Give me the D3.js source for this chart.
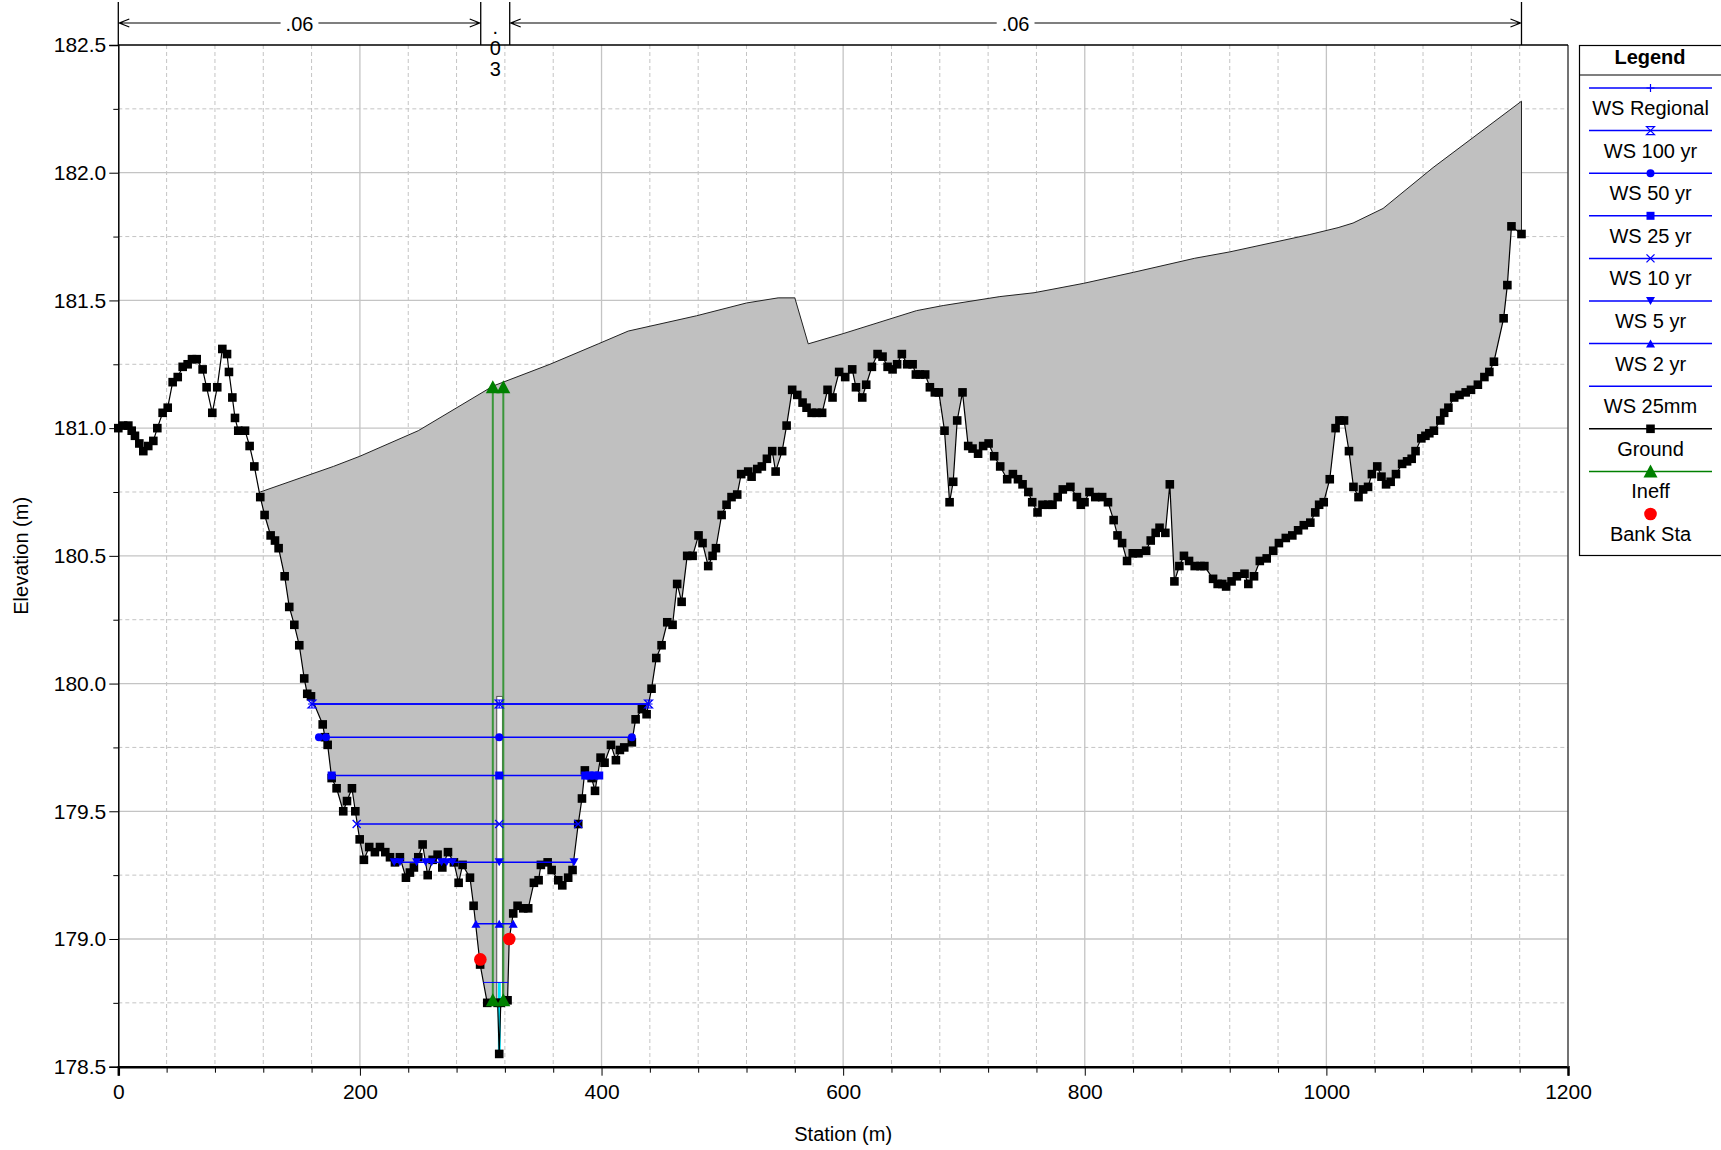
<!DOCTYPE html>
<html>
<head>
<meta charset="utf-8">
<script src="https://cdn.jsdelivr.net/npm/d3@7"></script>
<style>
  body { margin: 0; background: #fff; }
  svg { display: block; font-family: "Liberation Sans", Arial, sans-serif; }
</style>
</head>
<body>
<svg width="1721" height="1150"></svg>
<script>
// ground survey points (station m, elevation m)
const groundSta = [0,4,8.3,11.1,13.8,17.4,20.7,24.8,29,32.3,36.7,40.9,45,49.2,53.3,57.4,61,64.9,69.8,73.1,77.8,81.9,86.1,90,91.6,94.4,96.6,99.3,104.9,108.7,112.6,117.5,121.1,126.1,129.7,132.7,137.7,141.5,145.7,149.8,153.9,156.4,159.5,169.2,171,173.3,176.6,180.7,186.2,189.3,193.4,196.2,199.8,203.3,207.7,212.4,216.6,221,224.9,229,233.1,238.1,241.4,244.7,248.3,251.9,256.1,260.2,264.3,268.2,272.9,277.8,281.7,285,291.1,294.1,299.5,305.4,314,315.3,316.6,322.2,323.6,326.9,330.5,335.2,339.3,344,347.9,349.8,355.4,358.7,364.2,367.5,372.4,376,380.7,383.8,386.2,391.8,394.6,399.2,402.5,407.8,411.9,415.2,418.8,425.1,428.2,433.4,437.3,441.4,445.3,449.7,454.4,458.8,462.6,466.3,470.9,475.4,480.3,483.6,488.3,491.9,494.7,499.4,503.5,507.6,512.3,515.6,521.4,524.2,528.9,532.7,536.9,541.3,544.1,549.5,553.2,557.8,562,566.4,569.7,573.9,578,582.6,587.1,591.2,596.7,601.7,607.5,610.6,615.8,619.1,623.8,628.5,632.6,636.8,640.9,644.7,648.6,653,657.5,660.2,663.5,667.9,671.8,675.9,679.2,683.9,688.1,691.1,694.4,698.8,703.5,707.1,711.7,715.9,720.4,725,730,735.8,740.5,744.7,748.5,753.3,756.5,760.9,765,769.8,773.3,777.6,781.8,788.1,793.5,796.7,799.8,803.9,808.7,814.4,819.2,823.9,827.1,830.9,835,839.7,844.5,850.8,854.6,858.7,861.9,866.7,870.4,874.2,878.3,882.1,886.3,891,895.8,899,906.2,910,913.8,917,921.5,925.9,932.2,935.4,940.1,944.9,950.6,956,960.7,966.4,971.8,976.6,981.3,986.7,990.8,994,997.8,1002.8,1007.6,1010.8,1014.6,1018.7,1022.4,1026.6,1030.4,1034.5,1037.7,1042.1,1045.6,1049.4,1053.2,1057.6,1062.7,1066.8,1070.6,1073.8,1078.6,1082,1085.2,1089,1094.3,1097.5,1101,1105.8,1110.2,1115.3,1119.7,1125.4,1130.8,1134.9,1138.7,1146.7,1149.8,1153.2,1161.5];
const groundElev = [181.00,181.01,181.01,180.99,180.97,180.94,180.91,180.93,180.95,181.00,181.06,181.08,181.18,181.20,181.24,181.25,181.27,181.27,181.23,181.16,181.06,181.16,181.31,181.29,181.22,181.12,181.04,180.99,180.99,180.93,180.85,180.73,180.66,180.58,180.56,180.53,180.42,180.30,180.23,180.15,180.02,179.96,179.95,179.84,179.79,179.76,179.63,179.59,179.50,179.54,179.59,179.50,179.39,179.31,179.36,179.34,179.36,179.34,179.32,179.30,179.32,179.24,179.26,179.28,179.32,179.37,179.25,179.31,179.33,179.28,179.34,179.30,179.22,179.29,179.24,179.13,178.90,178.75,178.75,178.55,178.75,178.76,179.00,179.10,179.13,179.12,179.12,179.22,179.23,179.29,179.30,179.27,179.23,179.21,179.24,179.27,179.45,179.55,179.66,179.63,179.58,179.71,179.69,179.76,179.70,179.74,179.75,179.77,179.86,179.90,179.88,179.98,180.10,180.15,180.24,180.23,180.39,180.32,180.50,180.50,180.58,180.55,180.46,180.50,180.53,180.66,180.70,180.73,180.74,180.82,180.83,180.81,180.84,180.85,180.88,180.91,180.83,180.91,181.01,181.15,181.13,181.10,181.08,181.06,181.06,181.06,181.15,181.12,181.22,181.20,181.23,181.16,181.12,181.17,181.24,181.29,181.28,181.24,181.23,181.25,181.29,181.25,181.25,181.21,181.21,181.21,181.16,181.14,181.14,180.99,180.71,180.79,181.03,181.14,180.93,180.92,180.90,180.93,180.94,180.89,180.85,180.80,180.82,180.80,180.78,180.75,180.71,180.67,180.70,180.70,180.70,180.73,180.76,180.77,180.73,180.70,180.71,180.75,180.73,180.73,180.71,180.64,180.58,180.55,180.48,180.51,180.51,180.52,180.56,180.59,180.61,180.59,180.78,180.40,180.46,180.50,180.48,180.46,180.46,180.46,180.41,180.39,180.39,180.38,180.40,180.42,180.43,180.39,180.42,180.48,180.49,180.52,180.55,180.57,180.58,180.60,180.62,180.63,180.67,180.70,180.71,180.80,181.00,181.03,181.03,180.91,180.77,180.73,180.76,180.77,180.82,180.85,180.81,180.78,180.79,180.82,180.86,180.87,180.88,180.91,180.96,180.97,180.98,180.99,181.03,181.06,181.08,181.12,181.13,181.14,181.15,181.17,181.20,181.22,181.26,181.43,181.56,181.79,181.76];

// road / deck top line over the section
const deckSta = [117.5,178,200,248.3,310.3,357.3,397.3,422.1,478.7,520,546.2,560,571.1,600,660.7,682.8,729.7,758,799.2,840.3,891,920,986.3,1009.7,1022.1,1046.9,1088.3,1161.5];
const deckElev = [180.75,180.85,180.89,180.99,181.165,181.25,181.33,181.38,181.44,181.49,181.51,181.51,181.33,181.37,181.46,181.48,181.515,181.53,181.567,181.61,181.665,181.69,181.758,181.785,181.803,181.86,182.02,182.28];

// water surfaces
const wsNames = ["WS Regional","WS 100 yr","WS 50 yr","WS 25 yr","WS 10 yr","WS 5 yr","WS 2 yr","WS 25mm"];
const wsElev = [179.92,179.92,179.79,179.64,179.45,179.30,179.06,178.83];
const wsStart = [160.3,160.3,166.1,176.6,197.3,228.4,296,302];
const wsEnd = [438.9,438.9,425.1,398.1,380.7,377.2,326.9,322.8];
const wsMarkSta = [
  [160.3,315.3,438.9],
  [160.3,315.3,438.9],
  [166.1,171.9,315.3,425.1],
  [176.6,315.3,386.5,390,394,398.1],
  [197.3,315.3,380.7],
  [228.4,233.1,246.9,254.4,259.4,267.6,271.8,276.7,315.3,377.2],
  [296,315.3,326.9],
  []
];
const wsSymbols = ["plus","hourglass","circle","square","x","tridown","triup","none"];

// ineffective flow, bank stations, culvert opening
const ineffSta = [310,318.7];
const ineffTop = [181.16,181.16];
const ineffBot = [178.76,178.76];
const bankSta = [299.7,323.6];
const bankElev = [178.92,179.0];
const culvertSta = [313.3,317.9];
const culvertElev = [178.55,179.95];

// Manning's n
const nBreaks = [0,300,324,1161.5];
const nValues = [".06",".03",".06"];

const svg = d3.select("svg");
const x = d3.scaleLinear().domain([0,1200]).range([118.3,1568]);
const y = d3.scaleLinear().domain([178.5,182.5]).range([1066.7,45]);
const X0 = x(0), X1 = x(1200), Y0 = y(178.5), Y1 = y(182.5);

// grid
const grid = svg.append("g");
d3.range(40, 1200, 40).forEach(v => {
  const major = v % 200 === 0;
  grid.append("line").attr("x1", x(v)).attr("x2", x(v)).attr("y1", Y1).attr("y2", Y0)
    .attr("stroke", "#c4c4c4").attr("stroke-width", major ? 1.3 : 1)
    .attr("stroke-dasharray", major ? null : "4,3");
});
d3.range(178.75, 182.5, 0.25).forEach(v => {
  const major = Math.abs(v * 2 - Math.round(v * 2)) < 1e-6;
  grid.append("line").attr("x1", X0).attr("x2", X1).attr("y1", y(v)).attr("y2", y(v))
    .attr("stroke", "#c4c4c4").attr("stroke-width", major ? 1.3 : 1)
    .attr("stroke-dasharray", major ? null : "4,3");
});

const ground = groundSta.map((s, i) => [s, groundElev[i]]);
const deck = deckSta.map((s, i) => [s, deckElev[i]]);
const line = d3.line().x(d => x(d[0])).y(d => y(d[1]));

// grey fill between ground and deck
const under = ground.filter(d => d[0] >= deckSta[0] && d[0] <= deckSta[deckSta.length - 1]).reverse();
svg.append("path").attr("d", line(deck.concat(under)) + "Z").attr("fill", "#c0c0c0");
svg.append("path").attr("d", line(deck.concat([under[0]])))
  .attr("fill", "none").attr("stroke", "#222").attr("stroke-width", 1);

// culvert opening and low water
svg.append("rect").attr("x", x(culvertSta[0])).attr("y", y(culvertElev[1]))
  .attr("width", x(culvertSta[1]) - x(culvertSta[0])).attr("height", y(178.75) - y(culvertElev[1]))
  .attr("fill", "#fff").attr("stroke", "#333").attr("stroke-width", 0.8);
svg.append("rect").attr("x", x(314.2)).attr("y", y(wsElev[7]))
  .attr("width", x(316.6) - x(314.2)).attr("height", y(culvertElev[0]) - y(wsElev[7]))
  .attr("fill", "#00e8ff");

// ground line + squares
svg.append("path").attr("d", line(ground)).attr("fill", "none").attr("stroke", "#000").attr("stroke-width", 1.2);
svg.append("g").selectAll("rect").data(ground).join("rect")
  .attr("x", d => x(d[0]) - 4.3).attr("y", d => y(d[1]) - 4.3)
  .attr("width", 8.6).attr("height", 8.6).attr("fill", "#000");

// ineffective flow lines
ineffSta.forEach((s, i) => {
  svg.append("line").attr("x1", x(s)).attr("x2", x(s)).attr("y1", y(ineffTop[i])).attr("y2", y(ineffBot[i]))
    .attr("stroke", "#3a963a").attr("stroke-width", 2);
});

function marker(g, type, cx, cy, color) {
  const p = g.append("path").attr("transform", `translate(${cx},${cy})`);
  switch (type) {
    case "plus": p.attr("d", "M-4,0H4M0,-4V4").attr("stroke", color).attr("stroke-width", 1.2).attr("fill", "none"); break;
    case "hourglass": p.attr("d", "M-4,-4H4L-4,4H4Z").attr("stroke", color).attr("stroke-width", 1.2).attr("fill", "none"); break;
    case "circle": p.attr("d", d3.symbol(d3.symbolCircle, 50)()).attr("fill", color); break;
    case "square": p.attr("d", "M-4,-4H4V4H-4Z").attr("fill", color); break;
    case "x": p.attr("d", "M-4,-4L4,4M-4,4L4,-4").attr("stroke", color).attr("stroke-width", 1.3).attr("fill", "none"); break;
    case "tridown": p.attr("d", "M-4.5,-4H4.5L0,4Z").attr("fill", color); break;
    case "triup": p.attr("d", "M-4.5,4H4.5L0,-4Z").attr("fill", color); break;
    case "ground": p.attr("d", "M-4.3,-4.3H4.3V4.3H-4.3Z").attr("fill", "#000"); break;
    case "ineff": p.attr("d", "M-7,6H7L0,-7Z").attr("fill", color); break;
    case "bank": p.attr("d", d3.symbol(d3.symbolCircle, 125)()).attr("fill", color); break;
  }
}

// water surfaces
const wsG = svg.append("g");
wsNames.forEach((n, i) => {
  wsG.append("line").attr("x1", x(wsStart[i])).attr("x2", x(wsEnd[i])).attr("y1", y(wsElev[i])).attr("y2", y(wsElev[i]))
    .attr("stroke", "#0000ff").attr("stroke-width", i === 7 ? 1 : 1.5);
});
wsNames.forEach((n, i) => {
  wsMarkSta[i].forEach(s => marker(wsG, wsSymbols[i], x(s), y(wsElev[i]), "#0000ff"));
});

// ineff triangles and bank stations
ineffSta.forEach((s, i) => {
  marker(svg, "ineff", x(s), y(ineffTop[i]), "#008000");
  marker(svg, "ineff", x(s), y(ineffBot[i]), "#008000");
});
bankSta.forEach((s, i) => marker(svg, "bank", x(s), y(bankElev[i]), "#ff0000"));

// axes
const yAxis = svg.append("g").attr("transform", `translate(${X0},0)`)
  .call(d3.axisLeft(y).tickValues(d3.range(178.5, 182.51, 0.5)).tickFormat(d3.format(".1f")).tickSize(9).tickPadding(3));
svg.append("g").attr("transform", `translate(${X0},0)`)
  .call(d3.axisLeft(y).tickValues(d3.range(178.75, 182.5, 0.5)).tickFormat("").tickSize(5))
  .select(".domain").remove();
const xAxis = svg.append("g").attr("transform", `translate(0,${Y0})`)
  .call(d3.axisBottom(x).tickValues(d3.range(0, 1201, 200)).tickFormat(d3.format("d")).tickSize(9).tickPadding(8));
svg.append("g").attr("transform", `translate(0,${Y0})`)
  .call(d3.axisBottom(x).tickValues(d3.range(40, 1200, 40).filter(v => v % 200)).tickFormat("").tickSize(6))
  .select(".domain").remove();
[yAxis, xAxis].forEach(a => {
  a.selectAll("text").attr("font-size", 21).attr("font-family", "Liberation Sans, Arial, sans-serif").attr("fill", "#000");
  a.selectAll("line").attr("stroke", "#000");
});
yAxis.select(".domain").attr("stroke-width", 1.5);
xAxis.select(".domain").attr("stroke-width", 2.5);

// frame
svg.append("line").attr("x1", X1).attr("x2", X1).attr("y1", Y1).attr("y2", Y0).attr("stroke", "#444").attr("stroke-width", 1.5);
svg.append("line").attr("x1", X0).attr("x2", X1).attr("y1", Y1).attr("y2", Y1).attr("stroke", "#000").attr("stroke-width", 1.3);

svg.append("text").attr("transform", `translate(28,${(Y0 + Y1) / 2}) rotate(-90)`)
  .attr("text-anchor", "middle").attr("font-size", 20).text("Elevation (m)");
svg.append("text").attr("x", (X0 + X1) / 2).attr("y", 1141)
  .attr("text-anchor", "middle").attr("font-size", 20).text("Station (m)");

// Manning's n bar
const nG = svg.append("g");
nBreaks.forEach(s => nG.append("line").attr("x1", x(s)).attr("x2", x(s)).attr("y1", 2).attr("y2", Y1).attr("stroke", "#000").attr("stroke-width", 1.3));
nValues.forEach((v, i) => {
  const a = x(nBreaks[i]), b = x(nBreaks[i + 1]), m = (a + b) / 2;
  if (b - a > 60) {
    const t = nG.append("text").attr("x", m).attr("y", 31).attr("text-anchor", "middle").attr("font-size", 20).text(v);
    const w = t.node().getComputedTextLength() / 2 + 5;
    nG.append("path").attr("d", `M${a},23H${m - w}M${m + w},23H${b}M${a + 11},19L${a + 1},23L${a + 11},27M${b - 11},19L${b - 1},23L${b - 11},27`)
      .attr("fill", "none").attr("stroke", "#000").attr("stroke-width", 1.2);
  } else {
    v.split("").forEach((c, k) => nG.append("text").attr("x", m).attr("y", 34 + 21 * k)
      .attr("text-anchor", "middle").attr("font-size", 20).text(c));
  }
});

// legend
const lg = svg.append("g");
lg.append("rect").attr("x", 1579.5).attr("y", 45.5).attr("width", 200).attr("height", 510)
  .attr("fill", "#fff").attr("stroke", "#000").attr("stroke-width", 1.2);
lg.append("text").attr("x", 1650).attr("y", 64).attr("text-anchor", "middle")
  .attr("font-size", 20).attr("font-weight", "bold").text("Legend");
lg.append("line").attr("x1", 1579.5).attr("x2", 1721).attr("y1", 75).attr("y2", 75).attr("stroke", "#000").attr("stroke-width", 1.2);
const legendItems = wsNames.map((n, i) => ({ name: n, color: "#0000ff", sym: wsSymbols[i], line: true }))
  .concat([
    { name: "Ground", color: "#000", sym: "ground", line: true },
    { name: "Ineff", color: "#008000", sym: "ineff", line: true },
    { name: "Bank Sta", color: "#ff0000", sym: "bank", line: false }
  ]);
legendItems.forEach((d, i) => {
  const ly = 88 + 42.6 * i;
  if (d.line) lg.append("line").attr("x1", 1589).attr("x2", 1712).attr("y1", ly).attr("y2", ly)
    .attr("stroke", d.color).attr("stroke-width", 1.5);
  marker(lg, d.sym, 1650.5, ly, d.color);
  lg.append("text").attr("x", 1650.5).attr("y", ly + 27).attr("text-anchor", "middle").attr("font-size", 20).text(d.name);
});
</script>
</body>
</html>
